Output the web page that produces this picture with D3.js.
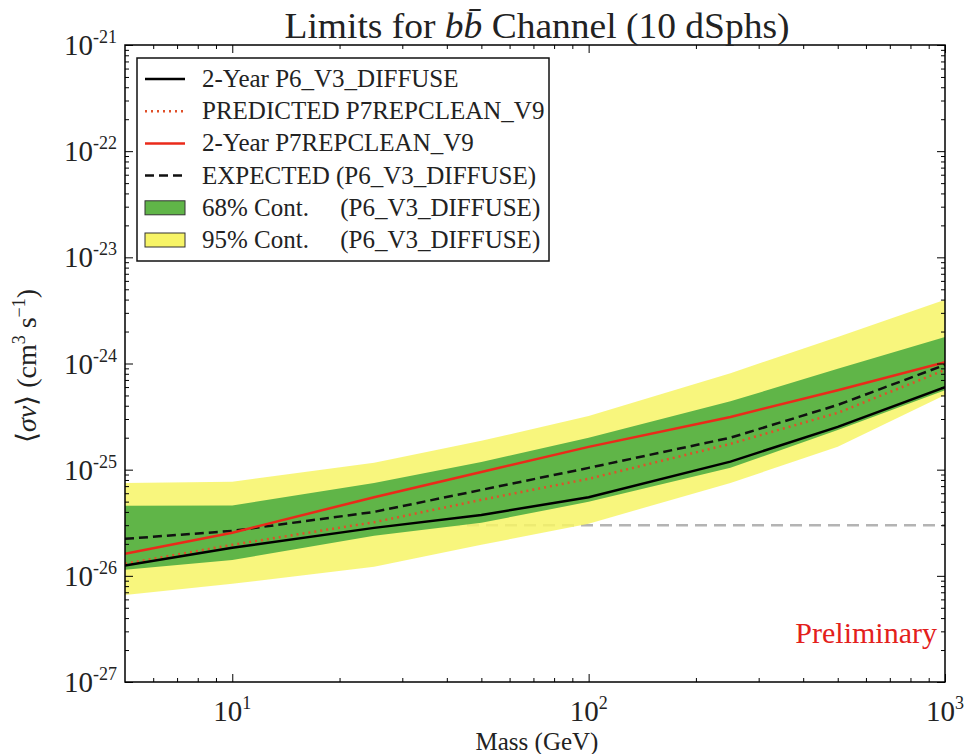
<!DOCTYPE html>
<html><head><meta charset="utf-8">
<script src="https://cdn.jsdelivr.net/npm/d3@7"></script>
<style>body{margin:0;background:#fff}svg{display:block}text{font-family:"Liberation Serif","Times New Roman",serif}</style>
</head><body>
<svg id="c" width="971" height="754"></svg>
<script>
// ---- data ----
const masses      = [5, 10, 25, 50, 100, 250, 500, 1000];
const limitP6     = [1.25e-26, 1.84e-26, 2.83e-26, 3.75e-26, 5.5e-26, 1.19e-25, 2.53e-25, 6.0e-25];
const limitP7     = [1.61e-26, 2.55e-26, 5.5e-26, 9.5e-26, 1.64e-25, 3.14e-25, 5.6e-25, 1.03e-24];
const predictedP7 = [1.3e-26, 1.96e-26, 3.2e-26, 5.2e-26, 8.2e-26, 1.75e-25, 3.43e-25, 8.7e-25];
const expectedP6  = [2.23e-26, 2.65e-26, 4.0e-26, 6.45e-26, 1.04e-25, 2.0e-25, 4.07e-25, 9.7e-25];
const band68Low   = [1.14e-26, 1.41e-26, 2.38e-26, 3.16e-26, 4.98e-26, 1.04e-25, 2.37e-25, 5.6e-25];
const band68High  = [4.57e-26, 4.6e-26, 7.5e-26, 1.18e-25, 2.0e-25, 4.4e-25, 8.9e-25, 1.78e-24];
const band95Low   = [6.6e-27, 8.4e-27, 1.22e-26, 1.96e-26, 3.1e-26, 7.5e-26, 1.64e-25, 5.06e-25];
const band95High  = [7.5e-26, 7.7e-26, 1.16e-25, 1.87e-25, 3.2e-25, 8.1e-25, 1.78e-24, 3.98e-24];
const relicValue  = 3e-26;
const xTickValues = [10, 100, 1000];
const xTickExps   = ["1", "2", "3"];
const yTickValues = [1e-27, 1e-26, 1e-25, 1e-24, 1e-23, 1e-22, 1e-21];
const yTickExps   = ["-27", "-26", "-25", "-24", "-23", "-22", "-21"];
const legendLabels = ["2-Year P6_V3_DIFFUSE", "PREDICTED P7REPCLEAN_V9", "2-Year P7REPCLEAN_V9",
  "EXPECTED (P6_V3_DIFFUSE)", "68% Cont.     (P6_V3_DIFFUSE)", "95% Cont.     (P6_V3_DIFFUSE)"];

// ---- layout ----
const L = 125, R = 945, T = 45, B = 682;
const svg = d3.select("#c");
const x = d3.scaleLog().domain([5, 1000]).range([L, R]);
const y = d3.scaleLog().domain([1e-27, 1e-21]).range([B, T]);

const C = {yellow: "#f7f466", green: "#60b548", red: "#ea2a1a", gray: "#b4b4b4"};

svg.append("defs").append("clipPath").attr("id", "clip")
  .append("rect").attr("x", L).attr("y", T).attr("width", R - L).attr("height", B - T);
const plot = svg.append("g").attr("clip-path", "url(#clip)");

// relic line (under bands, partially visible through them)
plot.append("line").attr("x1", L).attr("x2", R).attr("y1", y(relicValue)).attr("y2", y(relicValue))
  .attr("stroke", C.gray).attr("stroke-width", 2.5).attr("stroke-dasharray", "12,7");

const area = (lo, hi) => d3.area().x((d, i) => x(masses[i])).y0((d, i) => y(lo[i])).y1((d, i) => y(hi[i]))(masses);
plot.append("path").attr("d", area(band95Low, band95High)).attr("fill", C.yellow).attr("fill-opacity", 0.85);
plot.append("path").attr("d", area(band68Low, band68High)).attr("fill", C.green);

const line = vals => d3.line().x((d, i) => x(masses[i])).y((d, i) => y(vals[i]))(masses);
plot.append("path").attr("d", line(expectedP6)).attr("fill", "none").attr("stroke", "#111").attr("stroke-width", 2.5).attr("stroke-dasharray", "9,5");
plot.append("path").attr("d", line(predictedP7)).attr("fill", "none").attr("stroke", "#e0502a").attr("stroke-width", 2.5).attr("stroke-dasharray", "2,4");
plot.append("path").attr("d", line(limitP6)).attr("fill", "none").attr("stroke", "#000").attr("stroke-width", 2.5);
plot.append("path").attr("d", line(limitP7)).attr("fill", "none").attr("stroke", C.red).attr("stroke-width", 2.5);

// ---- ticks (inside, all four sides) ----
const yMinor = [], xMinor = [];
for (let e = -27; e < -21; e++) for (let k = 2; k <= 9; k++) yMinor.push(k * Math.pow(10, e));
[6, 7, 8, 9].forEach(k => xMinor.push(k));
for (let e = 1; e < 3; e++) for (let k = 2; k <= 9; k++) xMinor.push(k * Math.pow(10, e));

function axisSet(axisFn, scale, pos, vals, size) {
  const g = svg.append("g").attr("transform", pos)
    .call(axisFn(scale).tickValues(vals).tickSize(-size).tickFormat(""));
  g.select(".domain").remove();
  g.selectAll("line").attr("stroke", "#000").attr("stroke-width", 1);
}
axisSet(d3.axisLeft, y, `translate(${L},0)`, yTickValues, 8);
axisSet(d3.axisLeft, y, `translate(${L},0)`, yMinor, 4);
axisSet(d3.axisRight, y, `translate(${R},0)`, yTickValues, 8);
axisSet(d3.axisRight, y, `translate(${R},0)`, yMinor, 4);
axisSet(d3.axisBottom, x, `translate(0,${B})`, xTickValues, 8);
axisSet(d3.axisBottom, x, `translate(0,${B})`, xMinor, 4);
axisSet(d3.axisTop, x, `translate(0,${T})`, xTickValues, 8);
axisSet(d3.axisTop, x, `translate(0,${T})`, xMinor, 4);

svg.append("rect").attr("x", L).attr("y", T).attr("width", R - L).attr("height", B - T)
  .attr("fill", "none").attr("stroke", "#000").attr("stroke-width", 1.5);

// tick labels
yTickValues.forEach((v, i) => {
  const t = svg.append("text").attr("x", L - 8).attr("y", y(v) + 10).attr("text-anchor", "end").attr("fill", "#222");
  t.append("tspan").attr("font-size", 29).text("10");
  t.append("tspan").attr("font-size", 18).attr("dy", -12).text(yTickExps[i]);
});
xTickValues.forEach((v, i) => {
  const t = svg.append("text").attr("x", x(v)).attr("y", 721).attr("text-anchor", "middle").attr("fill", "#222");
  t.append("tspan").attr("font-size", 29).text("10");
  t.append("tspan").attr("font-size", 18).attr("dy", -12).text(xTickExps[i]);
});

// title
const title = svg.append("text").attr("x", 537).attr("y", 38).attr("text-anchor", "middle").attr("font-size", 35)
  .attr("fill", "#222").attr("textLength", 505).attr("lengthAdjust", "spacingAndGlyphs");
title.append("tspan").text("Limits for ");
title.append("tspan").attr("font-style", "italic").text("b");
title.append("tspan").attr("font-style", "italic").text("b\u0304");
title.append("tspan").text(" Channel (10 dSphs)");

// axis titles
svg.append("text").attr("x", 537).attr("y", 750).attr("text-anchor", "middle").attr("font-size", 25).attr("fill", "#222").text("Mass (GeV)");
const yl = svg.append("text").attr("transform", "translate(36,366) rotate(-90)").attr("text-anchor", "middle").attr("font-size", 28).attr("fill", "#222");
yl.append("tspan").text("\u27E8");
yl.append("tspan").attr("font-style", "italic").text("σv");
yl.append("tspan").text("\u27E9 (cm");
yl.append("tspan").attr("font-size", 18).attr("dy", -11).text("3");
yl.append("tspan").attr("dy", 11).text(" s");
yl.append("tspan").attr("font-size", 18).attr("dy", -11).text("\u22121");
yl.append("tspan").attr("dy", 11).text(")");

svg.append("text").attr("x", 937).attr("y", 643).attr("text-anchor", "end").attr("font-size", 30).attr("fill", "#e3201b").text("Preliminary");

// ---- legend ----
const lg = svg.append("g");
lg.append("rect").attr("x", 137).attr("y", 58).attr("width", 412).attr("height", 203)
  .attr("fill", "#fff").attr("stroke", "#111").attr("stroke-width", 1.5);
const rowY = i => 87 + i * 32.2;
const handles = [
  {type: "line", stroke: "#000", dash: null},
  {type: "line", stroke: "#e0502a", dash: "2,4"},
  {type: "line", stroke: C.red, dash: null},
  {type: "line", stroke: "#111", dash: "9,5"},
  {type: "rect", fill: C.green},
  {type: "rect", fill: C.yellow}
];
legendLabels.forEach((lab, i) => {
  const by = rowY(i), cy = by - 8;
  const h = handles[i];
  if (h.type === "line") {
    lg.append("line").attr("x1", 145).attr("x2", 185).attr("y1", cy).attr("y2", cy)
      .attr("stroke", h.stroke).attr("stroke-width", 2.5).attr("stroke-dasharray", h.dash);
  } else {
    lg.append("rect").attr("x", 145).attr("y", cy - 7).attr("width", 40).attr("height", 14)
      .attr("fill", h.fill).attr("stroke", "#333").attr("stroke-width", 1);
  }
  lg.append("text").attr("x", 202).attr("y", by).attr("font-size", 25).attr("fill", "#222")
    .attr("xml:space", "preserve").style("white-space", "pre").text(lab);
});
</script>
</body></html>
